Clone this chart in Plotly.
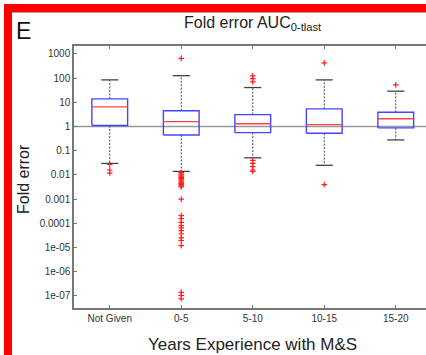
import plotly.graph_objects as go

# ---------------- data ----------------
categories = ["Not Given", "0-5", "5-10", "10-15", "15-20"]
q1 = [1.1, 0.45, 0.56, 0.53, 0.88]
median = [6.5, 1.6, 1.3, 1.2, 2.1]
q3 = [13.9, 4.5, 3.1, 5.4, 3.9]
whisker_low = [0.03, 0.014, 0.051, 0.025, 0.28]
whisker_high = [85, 127, 41, 85, 29]
outliers = [
    [0.027, 0.016, 0.012],
    [660, 0.0126, 0.0112, 0.01, 0.0089, 0.0079, 0.0071, 0.0063, 0.0056, 0.005,
     0.0045, 0.004, 0.0035, 0.0032, 0.001, 2.1e-4, 1.55e-4, 1.1e-4, 8.1e-5,
     6.5e-5, 5e-5, 3.7e-5, 2.5e-5, 1.95e-5, 1.2e-5, 1.4e-7, 1.05e-7, 7.6e-8],
    [125, 95, 70, 0.04, 0.03, 0.022, 0.016, 0.014],
    [430, 0.004],
    [53],
]
ytick_vals = [1000, 100, 10, 1, 0.1, 0.01, 0.001, 0.0001, 1e-05, 1e-06, 1e-07]
ytick_text = ["1000", "100", "10", "1", "0.1", "0.01", "0.001", "0.0001",
              "1e-05", "1e-06", "1e-07"]
REF_LINE = 1

# ---------------- style ----------------
BOX_HALF = 0.25
CAP_HALF = 0.12
W, H = 426, 355
ML, MR, MT, MB = 74, 0, 46, 47
PW, PH = W - ML - MR, H - MT - MB
FONT = "Liberation Sans, Arial, sans-serif"

pos = list(range(1, len(categories) + 1))

box_x, box_y, med_x, med_y = [], [], [], []
wh_x, wh_y, cap_x, cap_y = [], [], [], []
out_x, out_y = [], []
for i, p in enumerate(pos):
    box_x += [p - BOX_HALF, p + BOX_HALF, p + BOX_HALF, p - BOX_HALF, p - BOX_HALF, None]
    box_y += [q1[i], q1[i], q3[i], q3[i], q1[i], None]
    med_x += [p - BOX_HALF, p + BOX_HALF, None]
    med_y += [median[i], median[i], None]
    wh_x += [p, p, None, p, p, None]
    wh_y += [q3[i], whisker_high[i], None, q1[i], whisker_low[i], None]
    cap_x += [p - CAP_HALF, p + CAP_HALF, None, p - CAP_HALF, p + CAP_HALF, None]
    cap_y += [whisker_high[i], whisker_high[i], None, whisker_low[i], whisker_low[i], None]
    out_x += [p] * len(outliers[i])
    out_y += outliers[i]

fig = go.Figure()
fig.add_trace(go.Scatter(x=wh_x, y=wh_y, mode="lines",
                         line=dict(color="#444444", width=1, dash="2px,1.5px"),
                         hoverinfo="skip"))
fig.add_trace(go.Scatter(x=cap_x, y=cap_y, mode="lines",
                         line=dict(color="#444444", width=1.3), hoverinfo="skip"))
fig.add_trace(go.Scatter(x=box_x, y=box_y, mode="lines",
                         line=dict(color="#4545ff", width=1.4), hoverinfo="skip"))
fig.add_trace(go.Scatter(x=med_x, y=med_y, mode="lines",
                         line=dict(color="#ff4545", width=1.4), hoverinfo="skip"))
fig.add_trace(go.Scatter(x=out_x, y=out_y, mode="markers",
                         marker=dict(symbol="cross-thin", size=4,
                                     line=dict(color="#ff2020", width=1.2)),
                         hoverinfo="skip"))

# reference line at 1
fig.add_shape(type="line", xref="paper", x0=0, x1=1, yref="y", y0=REF_LINE, y1=REF_LINE,
              line=dict(color="#999999", width=1.5), layer="below")

# red frame (paper coords computed from pixels)
def px_x(v):
    return (v - ML) / PW

def px_y(v):
    return (H - MB - v) / PH

RED = "#ff0000"
fig.add_shape(type="rect", xref="paper", yref="paper",
              x0=px_x(4), x1=px_x(432), y0=px_y(360), y1=px_y(4),
              fillcolor="rgba(0,0,0,0)", line=dict(width=0))
fig.add_shape(type="rect", xref="paper", yref="paper",
              x0=px_x(4), x1=px_x(12), y0=px_y(360), y1=px_y(4),
              fillcolor=RED, line=dict(width=0))
fig.add_shape(type="rect", xref="paper", yref="paper",
              x0=px_x(4), x1=px_x(432), y0=px_y(12.5), y1=px_y(4),
              fillcolor=RED, line=dict(width=0))

# texts
fig.add_annotation(text="E", xref="paper", yref="paper", x=px_x(14), y=px_y(31),
                   xanchor="left", yanchor="middle", showarrow=False,
                   font=dict(family=FONT, size=23, color="#111111"))
fig.add_annotation(text="Fold error AUC<sub>0-tlast</sub>", xref="paper", yref="paper",
                   x=px_x(253), y=px_y(24), xanchor="center", yanchor="middle",
                   showarrow=False, font=dict(family=FONT, size=16, color="#222222"))
fig.add_annotation(text="Fold error", xref="paper", yref="paper", x=px_x(23), y=px_y(179),
                   xanchor="center", yanchor="middle", textangle=-90, showarrow=False,
                   font=dict(family=FONT, size=16, color="#222222"))
fig.add_annotation(text="Years Experience with M&S", xref="paper", yref="paper",
                   x=px_x(252), y=px_y(344), xanchor="center", yanchor="middle",
                   showarrow=False, font=dict(family=FONT, size=17, color="#222222"))

fig.update_layout(
    width=W, height=H, margin=dict(l=ML, r=MR, t=MT, b=MB),
    paper_bgcolor="white", plot_bgcolor="white", showlegend=False,
    xaxis=dict(range=[0.5, 0.5 + PW / 71.5], tickvals=pos, ticktext=categories,
               ticks="inside", ticklen=3, tickcolor="#777777", showline=True,
               linecolor="#777777", linewidth=1.5, mirror="ticks", showgrid=False,
               zeroline=False, tickfont=dict(family=FONT, size=10, color="#333333")),
    yaxis=dict(type="log", range=[-7.5, 3.33], tickvals=ytick_vals, ticktext=ytick_text,
               ticks="inside", ticklen=3, tickcolor="#777777", showline=True,
               linecolor="#777777", linewidth=1.5, showgrid=False, zeroline=False,
               tickfont=dict(family=FONT, size=10, color="#333333")),
)

fig.write_html("out.html")
